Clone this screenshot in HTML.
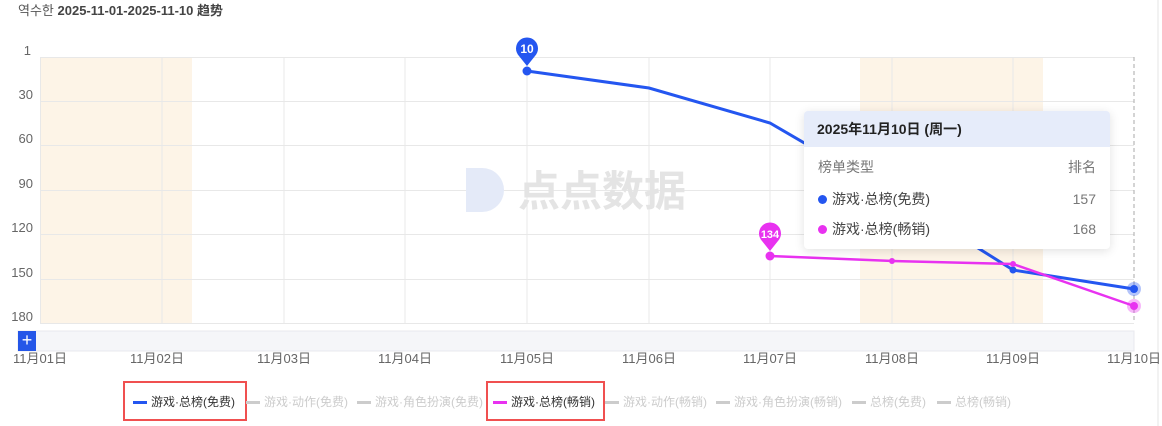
<!DOCTYPE html>
<html><head><meta charset="utf-8"><style>
body{margin:0;background:#fff;width:1162px;height:426px;overflow:hidden;font-family:"Liberation Sans","Noto Sans CJK SC",sans-serif;position:relative}
.t{position:absolute;left:18px;top:0px;font-size:13px;color:#555}
.tt{position:absolute;left:804px;top:111px;width:306px;height:138px;background:#fff;border-radius:4px;box-shadow:0 2px 10px rgba(0,0,0,.12);overflow:hidden;font-size:14px;color:#444}
.tt .h{background:#e6ecfa;height:36px;line-height:36px;padding-left:13px;font-weight:bold;color:#222}
.row{position:absolute;left:14px;right:14px;height:20px;line-height:20px}
.row span.r{position:absolute;right:0;color:#777}
.dot{display:inline-block;width:9px;height:9px;border-radius:50%;margin-right:5px}
.lg{position:absolute;top:393px;font-size:12px;color:#ccc;white-space:nowrap}
.lg i{display:inline-block;width:14px;height:3px;background:#ccc;vertical-align:middle;margin-right:4px}
.box{position:absolute;border:2px solid #f05050;height:36px;top:381px}
</style></head><body>
<div class="t">역수한 <b style="color:#444">2025-11-01-2025-11-10 趋势</b></div>
<svg width="1162" height="426" style="position:absolute;left:0;top:0">
<rect x="40" y="57" width="152" height="266" fill="#fdf4e7"/>
<rect x="860" y="57" width="183" height="266" fill="#fdf4e7"/>
<g stroke="#e8e8e8" stroke-width="1">
<line x1="40" x2="1134" y1="57.5" y2="57.5"/><line x1="40" x2="1134" y1="101.5" y2="101.5"/><line x1="40" x2="1134" y1="145.5" y2="145.5"/><line x1="40" x2="1134" y1="190.5" y2="190.5"/><line x1="40" x2="1134" y1="234.5" y2="234.5"/><line x1="40" x2="1134" y1="279.5" y2="279.5"/><line x1="40" x2="1134" y1="323.5" y2="323.5"/>
<line x1="40.5" x2="40.5" y1="57" y2="323"/><line x1="162" x2="162" y1="57" y2="323"/><line x1="284" x2="284" y1="57" y2="323"/><line x1="405" x2="405" y1="57" y2="323"/><line x1="527" x2="527" y1="57" y2="323"/><line x1="649" x2="649" y1="57" y2="323"/><line x1="770" x2="770" y1="57" y2="323"/><line x1="892" x2="892" y1="57" y2="323"/><line x1="1013" x2="1013" y1="57" y2="323"/>
</g>
<line x1="1134" x2="1134" y1="57" y2="323" stroke="#aaa" stroke-dasharray="4,3"/>
<line x1="1158" x2="1158" y1="0" y2="426" stroke="#e6e6e6"/>
<g font-size="13" fill="#666" text-anchor="end"><text x="31" y="55">1</text><text x="33" y="99">30</text><text x="33" y="143">60</text><text x="33" y="188">90</text><text x="33" y="232">120</text><text x="33" y="277">150</text><text x="33" y="321">180</text></g>
<rect x="18" y="331" width="1116" height="20" fill="#f5f6f9" stroke="#e8e8ee"/>
<rect x="18" y="331" width="18" height="20" fill="#2456e8"/>
<text x="27" y="346" fill="#fff" font-size="18" text-anchor="middle">+</text>
<g font-size="13" fill="#666" text-anchor="middle"><text x="40" y="363">11月01日</text><text x="157" y="363">11月02日</text><text x="284" y="363">11月03日</text><text x="405" y="363">11月04日</text><text x="527" y="363">11月05日</text><text x="649" y="363">11月06日</text><text x="770" y="363">11月07日</text><text x="892" y="363">11月08日</text><text x="1013" y="363">11月09日</text><text x="1134" y="363">11月10日</text></g>
<path d="M466,168 h16 a22,22 0 0 1 0,44 h-16 z" fill="#e4eaf8"/>
<text x="518" y="206" font-size="42" font-weight="bold" fill="#e4e4e4" font-family="Noto Sans CJK SC,sans-serif">点点数据</text>
<polyline points="527,71 649,88 770,123 892,194 1013,270 1134,289" fill="none" stroke="#2456f0" stroke-width="3"/>
<polyline points="770,256 892,261 1013,264 1134,306" fill="none" stroke="#e832f0" stroke-width="2.5"/>
<circle cx="527" cy="71" r="4.5" fill="#2456f0"/><circle cx="1013" cy="270" r="3.5" fill="#2456f0"/>
<circle cx="770" cy="256" r="4.5" fill="#e832f0"/><circle cx="892" cy="261" r="3" fill="#e832f0"/><circle cx="1013" cy="264" r="3" fill="#e832f0"/>
<circle cx="1134" cy="289" r="7" fill="#2456f0" opacity=".35"/><circle cx="1134" cy="289" r="4" fill="#2456f0"/>
<circle cx="1134" cy="306" r="7" fill="#e832f0" opacity=".35"/><circle cx="1134" cy="306" r="4" fill="#e832f0"/>
<path d="M527,66 L519,56 A11,11 0 1 1 535,56 Z" fill="#2456f0"/><text x="527" y="53" font-size="12" font-weight="bold" fill="#fff" text-anchor="middle">10</text>
<path d="M770,251 L762,241 A11,11 0 1 1 778,241 Z" fill="#e832f0"/><text x="770" y="238" font-size="11" font-weight="bold" fill="#fff" text-anchor="middle">134</text>
</svg>
<div class="tt"><div class="h">2025年11月10日 (周一)</div>
<div class="row" style="top:46px;color:#777">榜单类型<span class="r">排名</span></div>
<div class="row" style="top:78px"><span class="dot" style="background:#2456f0"></span>游戏·总榜(免费)<span class="r">157</span></div>
<div class="row" style="top:108px"><span class="dot" style="background:#e832f0"></span>游戏·总榜(畅销)<span class="r">168</span></div>
</div>
<div class="box" style="left:123px;width:120px"></div>
<div class="box" style="left:486px;width:115px"></div>
<div class="lg" style="left:133px;color:#333"><i style="background:#2456f0"></i>游戏·总榜(免费)</div>
<div class="lg" style="left:246px"><i></i>游戏·动作(免费)</div>
<div class="lg" style="left:357px"><i></i>游戏·角色扮演(免费)</div>
<div class="lg" style="left:493px;color:#333"><i style="background:#e832f0"></i>游戏·总榜(畅销)</div>
<div class="lg" style="left:605px"><i></i>游戏·动作(畅销)</div>
<div class="lg" style="left:716px"><i></i>游戏·角色扮演(畅销)</div>
<div class="lg" style="left:852px"><i></i>总榜(免费)</div>
<div class="lg" style="left:937px"><i></i>总榜(畅销)</div>
</body></html>
